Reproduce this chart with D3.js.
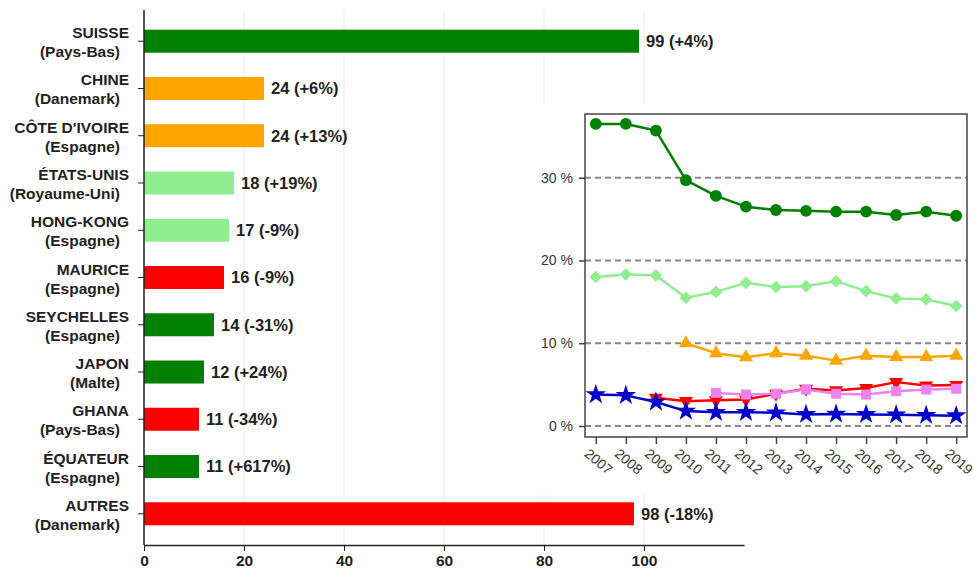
<!DOCTYPE html>
<html>
<head>
<meta charset="utf-8">
<script src="https://cdn.jsdelivr.net/npm/d3@7"></script>
<style>
  html, body { margin: 0; padding: 0; background: #fff; }
  svg { display: block; font-family: "Liberation Sans", Arial, sans-serif; }
</style>
</head>
<body>
<svg id="chart" width="975" height="576"></svg>
<script>
// ---- Bar chart data: destination (main partner), value and change ----
const categories = ["SUISSE", "CHINE", "CÔTE D'IVOIRE", "ÉTATS-UNIS", "HONG-KONG", "MAURICE",
                    "SEYCHELLES", "JAPON", "GHANA", "ÉQUATEUR", "AUTRES"];
const partners = ["(Pays-Bas)", "(Danemark)", "(Espagne)", "(Royaume-Uni)", "(Espagne)", "(Espagne)",
                  "(Espagne)", "(Malte)", "(Pays-Bas)", "(Espagne)", "(Danemark)"];
const values = [99, 24, 24, 18, 17, 16, 14, 12, 11, 11, 98];
const changes = ["+4%", "+6%", "+13%", "+19%", "-9%", "-9%", "-31%", "+24%", "-34%", "+617%", "-18%"];
const barColors = ["#008000", "#FFA500", "#FFA500", "#90EE90", "#90EE90", "#FF0000",
                   "#008000", "#008000", "#FF0000", "#008000", "#FF0000"];
const xTicks = [0, 20, 40, 60, 80, 100];

// ---- Inset data: shares (%) by year ----
const years = [2007, 2008, 2009, 2010, 2011, 2012, 2013, 2014, 2015, 2016, 2017, 2018, 2019];
const shareGreen = [36.5, 36.5, 35.7, 29.7, 27.8, 26.5, 26.1, 26.0, 25.9, 25.9, 25.5, 25.9, 25.4];
const shareLight = [18.0, 18.3, 18.2, 15.5, 16.2, 17.3, 16.8, 16.9, 17.5, 16.3, 15.4, 15.3, 14.5];
const shareOrange = [null, null, null, 10.0, 8.8, 8.3, 8.8, 8.5, 7.9, 8.5, 8.35, 8.35, 8.5];
const shareRed = [null, null, 3.4, 3.0, 3.1, 3.2, 3.9, 4.5, 4.3, 4.6, 5.3, 4.9, 4.95];
const shareViolet = [null, null, null, null, 4.0, 3.8, 3.9, 4.4, 3.9, 3.8, 4.2, 4.4, 4.5];
const shareBlue = [3.8, 3.7, 2.9, 1.8, 1.65, 1.65, 1.6, 1.4, 1.45, 1.4, 1.35, 1.3, 1.25];
const yTicksInset = [0, 10, 20, 30];

const svg = d3.select("#chart");

// ================= Horizontal bar chart =================
const x = d3.scaleLinear().domain([0, 120]).range([144, 744]);
const y = d3.scaleBand().domain(categories).range([10, 545])
  .paddingInner(0.513).paddingOuter(0.417);

// vertical grid
svg.append("g").selectAll("line").data(xTicks.slice(1)).join("line")
  .attr("x1", d => x(d)).attr("x2", d => x(d))
  .attr("y1", 10).attr("y2", 545)
  .attr("stroke", "#e9e9e9").attr("stroke-width", 1);

// bars
svg.append("g").selectAll("rect").data(categories).join("rect")
  .attr("x", x(0))
  .attr("y", d => y(d))
  .attr("width", (d, i) => x(values[i]) - x(0))
  .attr("height", y.bandwidth())
  .attr("fill", (d, i) => barColors[i]);

// value labels
svg.append("g").selectAll("text").data(categories).join("text")
  .attr("x", (d, i) => x(values[i]) + 7)
  .attr("y", d => y(d) + y.bandwidth() / 2)
  .attr("dy", "0.36em")
  .attr("font-size", 16.5).attr("font-weight", "bold").attr("fill", "#222")
  .text((d, i) => `${values[i]} (${changes[i]})`);

// y axis (ticks only) and category labels
const yAxis = svg.append("g").attr("transform", `translate(${x(0)},0)`)
  .call(d3.axisLeft(y).tickSize(6).tickSizeOuter(0).tickFormat(""));
yAxis.select(".domain").attr("stroke", "#222").attr("stroke-width", 1.5)
  .attr("d", "M0,10V545");
yAxis.selectAll(".tick line").attr("stroke", "#222");

const catLabels = svg.append("g").attr("font-size", 15.5).attr("font-weight", "bold")
  .attr("fill", "#222").attr("text-anchor", "end");
categories.forEach((c, i) => {
  const cy = y(c) + y.bandwidth() / 2;
  catLabels.append("text").attr("x", 129).attr("y", cy - 3).text(c);
  catLabels.append("text").attr("x", 120).attr("y", cy + 16).text(partners[i]);
});

// x axis
const xAxis = svg.append("g").attr("transform", "translate(0,545)")
  .call(d3.axisBottom(x).tickValues(xTicks).tickSize(6).tickSizeOuter(0).tickPadding(4));
xAxis.select(".domain").attr("stroke", "#222").attr("stroke-width", 1.5);
xAxis.selectAll(".tick line").attr("stroke", "#222");
xAxis.selectAll(".tick text").attr("font-size", 15.5).attr("font-weight", "bold")
  .attr("fill", "#222").attr("font-family", "Liberation Sans, Arial, sans-serif");

// ================= Inset line chart =================
svg.append("rect").attr("x", 535).attr("y", 104).attr("width", 440).attr("height", 390)
  .attr("fill", "#fff");

const ix = d3.scaleLinear().domain([2006.64, 2019.36]).range([585, 967]);
const iy = d3.scaleLinear().domain([-1.33, 37.7]).range([437, 114]);

// dashed grid
svg.append("g").selectAll("line").data(yTicksInset).join("line")
  .attr("x1", 585).attr("x2", 967)
  .attr("y1", d => iy(d)).attr("y2", d => iy(d))
  .attr("stroke", "#888").attr("stroke-width", 2).attr("stroke-dasharray", "6,4");

// frame
svg.append("rect").attr("x", 585).attr("y", 114).attr("width", 382).attr("height", 323)
  .attr("fill", "none").attr("stroke", "#444").attr("stroke-width", 1.5);

// inset y axis
const iyAxis = svg.append("g").attr("transform", "translate(585,0)")
  .call(d3.axisLeft(iy).tickValues(yTicksInset).tickSize(6).tickPadding(6)
    .tickFormat(d => d + " %"));
iyAxis.select(".domain").remove();
iyAxis.selectAll(".tick line").attr("stroke", "#444").attr("stroke-width", 1.5);
iyAxis.selectAll(".tick text").attr("font-size", 14).attr("fill", "#333")
  .attr("font-family", "Liberation Sans, Arial, sans-serif");

// inset x axis with rotated years
const ixAxis = svg.append("g").attr("transform", "translate(0,437)")
  .call(d3.axisBottom(ix).tickValues(years).tickSize(7).tickFormat(d3.format("d")));
ixAxis.select(".domain").remove();
ixAxis.selectAll(".tick line").attr("stroke", "#444").attr("stroke-width", 1.5);
ixAxis.selectAll(".tick text")
  .attr("font-size", 14).attr("fill", "#333")
  .attr("font-family", "Liberation Sans, Arial, sans-serif")
  .attr("text-anchor", "start")
  .attr("dy", null)
  .attr("transform", "translate(-5,9) rotate(40)")
  .attr("x", 0).attr("y", 12);

// series
const series = [
  { data: shareGreen, color: "#008000", shape: "circle" },
  { data: shareLight, color: "#90EE90", shape: "diamond" },
  { data: shareOrange, color: "#FFA500", shape: "triangleUp" },
  { data: shareRed, color: "#FF0000", shape: "triangleDown" },
  { data: shareViolet, color: "#EE82EE", shape: "square" },
  { data: shareBlue, color: "#0000CD", shape: "star" }
];

const symbolFor = {
  circle: { type: d3.symbolCircle, size: 110, rot: 0 },
  diamond: { type: d3.symbolSquare, size: 80, rot: 45 },
  triangleUp: { type: d3.symbolTriangle, size: 85, rot: 0 },
  triangleDown: { type: d3.symbolTriangle, size: 85, rot: 180 },
  square: { type: d3.symbolSquare, size: 100, rot: 0 },
  star: { type: d3.symbolStar, size: 130, rot: 0 }
};

const line = d3.line()
  .defined(d => d.v != null)
  .x(d => ix(d.year)).y(d => iy(d.v));

series.forEach(s => {
  const pts = years.map((yr, i) => ({ year: yr, v: s.data[i] }));
  const g = svg.append("g");
  g.append("path").datum(pts).attr("d", line)
    .attr("fill", "none").attr("stroke", s.color).attr("stroke-width", 2.5)
    .attr("stroke-linejoin", "round");
  const sym = symbolFor[s.shape];
  g.selectAll("path.m").data(pts.filter(d => d.v != null)).join("path")
    .attr("class", "m")
    .attr("d", d3.symbol().type(sym.type).size(sym.size))
    .attr("transform", d => `translate(${ix(d.year)},${iy(d.v)}) rotate(${sym.rot})`)
    .attr("fill", s.color);
});
</script>
</body>
</html>
